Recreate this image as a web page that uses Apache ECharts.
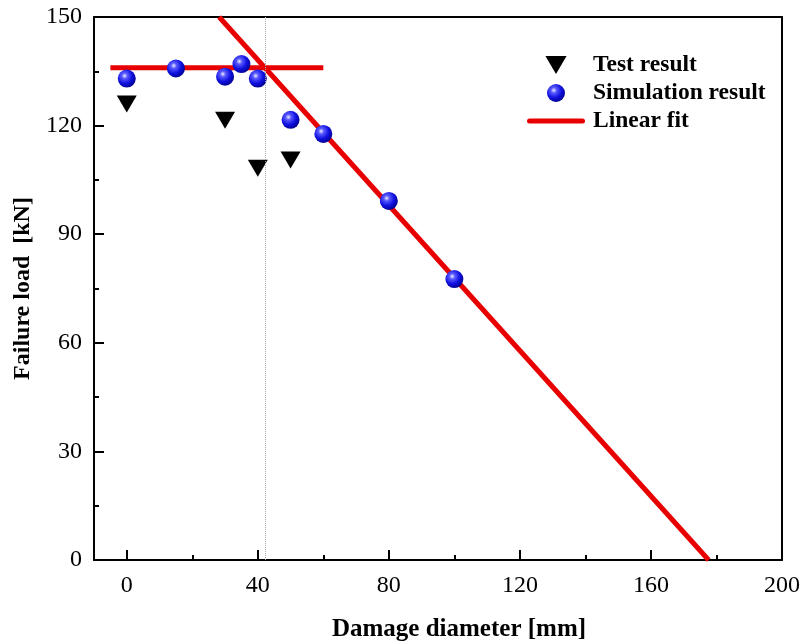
<!DOCTYPE html>
<html>
<head>
<meta charset="utf-8">
<script src="https://cdn.jsdelivr.net/npm/echarts@6/dist/echarts.min.js"></script>
<style>html,body{margin:0;padding:0;background:#fff}#c{width:803px;height:643px}</style>
</head>
<body>
<div id="c"></div>
<script>
// Data
var testX = [0, 30, 40, 50];
var testY = [126, 121.5, 108.2, 110.5];
var simX = [0, 15, 30, 35, 40, 50, 60, 80, 100];
var simY = [133, 135.8, 133.5, 137, 133, 121.6, 117.7, 99.2, 77.6];
var fitPlateauX = [-5, 60];
var fitPlateauY = [136, 136];
var fitDropX = [28.2, 177.6];
var fitDropY = [150, 0];
var dividerX = 42.2;
var xTickLabels = [0, 40, 80, 120, 160, 200];
var xMinorTicks = [20, 60, 100, 140, 180];
var yTickLabels = [0, 30, 60, 90, 120, 150];

function pairs(xs, ys) { return xs.map(function (x, i) { return [x, ys[i]]; }); }

var FONT = '"Liberation Serif", "Times New Roman", serif';
var chart = echarts.init(document.getElementById('c'), null, {renderer: 'canvas'});
var sphere = {
  type: 'radial', x: 0.38, y: 0.35, r: 0.7,
  colorStops: [
    {offset: 0, color: '#f0f0ff'},
    {offset: 0.22, color: '#5a5aff'},
    {offset: 0.6, color: '#1010e0'},
    {offset: 1, color: '#00008a'}
  ]
};
var triPath = 'path://M0,0 L20,0 L10,17 Z';
var barPath = 'path://M2.5,0 L55.5,0 A2.5,2.5 0 0 1 55.5,5 L2.5,5 A2.5,2.5 0 0 1 2.5,0 Z';

chart.setOption({
  animation: false,
  backgroundColor: '#fff',
  grid: {left: 94, right: 21, top: 17, bottom: 83, containLabel: false, outerBoundsMode: 'none'},
  legend: {
    orient: 'vertical', left: 522, top: 48, itemWidth: 58, itemHeight: 18, itemGap: 4,
    selectedMode: false,
    textStyle: {fontFamily: FONT, fontWeight: 'bold', fontSize: 23.5, color: '#000', padding: [0, 0, 0, 3]},
    data: [
      {name: 'Test result', icon: triPath},
      {name: 'Simulation result', icon: 'circle'},
      {name: 'Linear fit', icon: barPath}
    ]
  },
  xAxis: [
    {
      type: 'value', min: -10, max: 200, position: 'bottom',
      name: 'Damage diameter [mm]', nameLocation: 'middle', nameGap: 57,
      nameTextStyle: {fontFamily: FONT, fontWeight: 'bold', fontSize: 25, color: '#000', padding: [0, 0, 0, 42]},
      axisLine: {show: true, onZero: false, lineStyle: {color: '#000', width: 2}},
      axisTick: {show: true, inside: true, length: 10, customValues: xTickLabels, lineStyle: {color: '#000', width: 2}},
      axisLabel: {show: true, customValues: xTickLabels, margin: 14, fontFamily: FONT, fontSize: 24, color: '#000'},
      splitLine: {show: false}
    },
    {
      type: 'value', min: -10, max: 200, position: 'bottom',
      axisLine: {show: false, onZero: false},
      axisTick: {show: true, inside: true, length: 5, customValues: xMinorTicks, lineStyle: {color: '#000', width: 2}},
      axisLabel: {show: false},
      splitLine: {show: false}
    },
    {
      type: 'value', min: -10, max: 200, position: 'top',
      axisLine: {show: true, onZero: false, lineStyle: {color: '#000', width: 2}},
      axisTick: {show: false}, axisLabel: {show: false}, splitLine: {show: false}
    }
  ],
  yAxis: [
    {
      type: 'value', min: 0, max: 150, interval: 30, position: 'left',
      name: 'Failure load  [kN]', nameLocation: 'middle', nameGap: 58,
      nameTextStyle: {fontFamily: FONT, fontWeight: 'bold', fontSize: 24, color: '#000'},
      axisLine: {show: true, onZero: false, lineStyle: {color: '#000', width: 2}},
      axisTick: {show: true, inside: true, length: 10, lineStyle: {color: '#000', width: 2}},
      minorTick: {show: true, splitNumber: 2, length: 5, lineStyle: {color: '#000', width: 2}},
      axisLabel: {show: true, margin: 12, fontFamily: FONT, fontSize: 24, color: '#000',
        customValues: yTickLabels},
      splitLine: {show: false}, minorSplitLine: {show: false}
    },
    {
      type: 'value', min: 0, max: 150, position: 'right',
      axisLine: {show: true, onZero: false, lineStyle: {color: '#000', width: 2}},
      axisTick: {show: false}, axisLabel: {show: false}, splitLine: {show: false}
    }
  ],
  series: [
    {
      name: 'Linear fit', type: 'line', xAxisIndex: 0, yAxisIndex: 0, z: 2,
      data: pairs(fitPlateauX, fitPlateauY), symbol: 'none', showSymbol: false,
      lineStyle: {color: '#e80000', width: 5},
      itemStyle: {color: '#e80000'},
      markLine: {
        silent: true, symbol: 'none', label: {show: false},
        lineStyle: {color: '#a8a8a8', type: 'dotted', width: 1},
        data: [{xAxis: dividerX}]
      }
    },
    {
      name: 'Linear fit', type: 'line', xAxisIndex: 0, yAxisIndex: 0, z: 2,
      data: pairs(fitDropX, fitDropY), symbol: 'none', showSymbol: false,
      lineStyle: {color: '#e80000', width: 5},
      itemStyle: {color: '#e80000'}
    },
    {
      name: 'Test result', type: 'scatter', xAxisIndex: 0, yAxisIndex: 0, z: 3,
      data: pairs(testX, testY), symbol: triPath, symbolSize: [20, 17],
      itemStyle: {color: '#000', opacity: 1}
    },
    {
      name: 'Simulation result', type: 'scatter', xAxisIndex: 0, yAxisIndex: 0, z: 4,
      data: pairs(simX, simY), symbol: 'circle', symbolSize: 18,
      itemStyle: {color: sphere, opacity: 1}
    }
  ]
});
</script>
</body>
</html>
